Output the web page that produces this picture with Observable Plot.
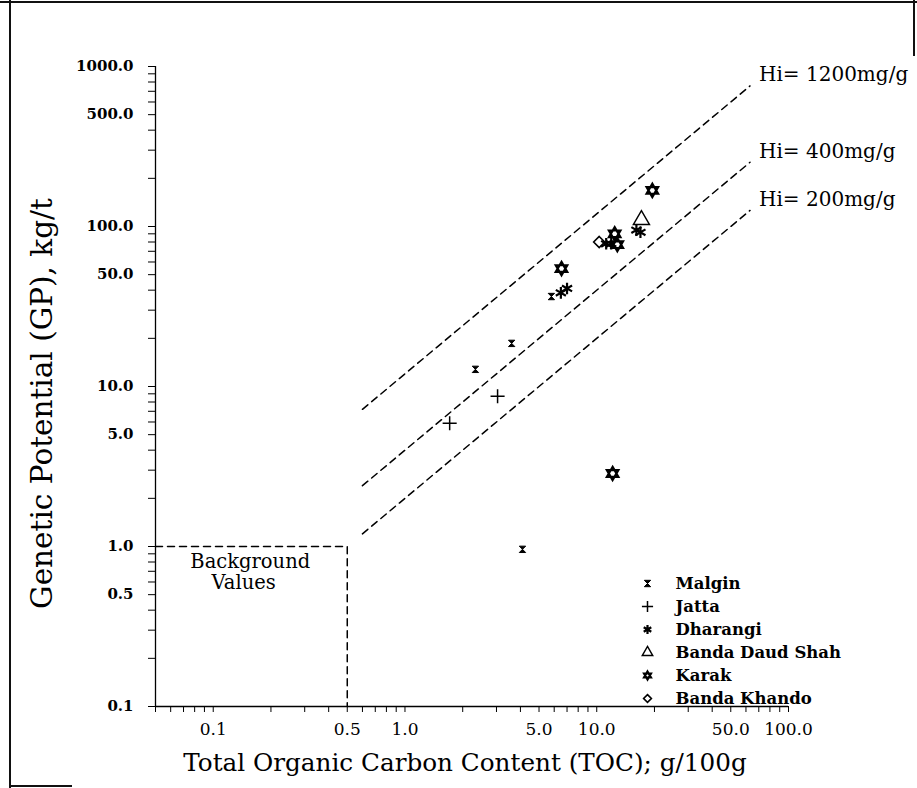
<!DOCTYPE html>
<html><head><meta charset="utf-8">
<script src="https://cdn.jsdelivr.net/npm/d3@7"></script>
<script src="https://cdn.jsdelivr.net/npm/@observablehq/plot@0.6"></script>
<style>
body{margin:0;background:#fff;}
#wrap{position:relative;width:917px;height:788px;overflow:hidden;background:#fff;}
#wrap svg{position:absolute;left:0;top:0;}
.bl{position:absolute;background:#111;}
</style></head><body>
<div id="wrap">
  <div class="bl" style="left:9px;top:0;width:2px;height:788px"></div>
  <div class="bl" style="left:0;top:1px;width:917px;height:2px"></div>
  <div class="bl" style="left:913px;top:0;width:2px;height:56px"></div>
  <div class="bl" style="left:10px;top:785px;width:62px;height:2px"></div>
</div>
<script>
// ---- data ----
const seriesNames = ["Malgin", "Jatta", "Dharangi", "Banda Daud Shah", "Karak", "Banda Khando"];
const malginTOC = [2.33, 3.6, 5.8, 4.1];
const malginGP  = [12.8, 18.6, 36.5, 0.96];
const jattaTOC = [1.71, 3.04];
const jattaGP  = [5.9, 8.7];
const dharangiTOC = [6.5, 7.0, 11.2, 11.9, 16.1, 16.9];
const dharangiGP  = [38.5, 41, 78, 78, 95, 92];
const bdsTOC = [17.1];
const bdsGP  = [110];
const karakTOC = [6.55, 12.1, 12.4, 12.8, 19.5];
const karakGP  = [54.6, 2.86, 90, 77, 168];
const bkTOC = [10.3];
const bkGP  = [80];

const hiNames = ["Hi= 1200mg/g", "Hi= 400mg/g", "Hi= 200mg/g"];
const hiLineTOC = [0.6, 63];
const hi1200GP = [7.2, 756];
const hi400GP  = [2.4, 252];
const hi200GP  = [1.2, 126];

const bgBoxTOC = [0.05, 0.5, 0.5];
const bgBoxGP  = [1, 1, 0.1];
const bgLabels = ["Background", "Values"];
const bgLabelTOC = [0.076, 0.098];
const bgLabelGP  = [0.806, 0.596];

const xTickLabels = [0.1, 0.5, 1, 5, 10, 50, 100];
const yTickLabels = [0.1, 0.5, 1, 5, 10, 50, 100, 500, 1000];

// ---- helpers ----
const zip = (xs, ys) => xs.map((x, i) => ({toc: x, gp: ys[i]}));
function minorTicks(lo, hi) {
  const out = [];
  for (let e = lo; e <= hi; e++) for (let m = 1; m <= 9; m++) out.push(+(m * 10 ** e).toPrecision(3));
  return out;
}
const xAll = minorTicks(-2, 2).filter(d => d >= 0.05 && d <= 100);
const yAll = minorTicks(-1, 3).filter(d => d >= 0.1 && d <= 1000);

const hourglass = {draw(c, size) {
  const s = Math.sqrt(size) / 2;
  c.moveTo(-s, -s); c.lineTo(s, -s); c.lineTo(0, 0); c.closePath();
  c.moveTo(-s, s); c.lineTo(s, s); c.lineTo(0, 0); c.closePath();
}};
const hexagram = {draw(c, size) {
  const r = Math.sqrt(size) / 1.6;
  for (const off of [-Math.PI / 2, Math.PI / 2]) {
    for (let k = 0; k < 3; k++) {
      const a = off + k * 2 * Math.PI / 3;
      const x = r * Math.cos(a), y = r * Math.sin(a);
      if (k) c.lineTo(x, y); else c.moveTo(x, y);
    }
    c.closePath();
  }
}};

const styles = [
  {symbol: hourglass, r: 3.6, fill: "black", stroke: "black", strokeWidth: 1},
  {symbol: "plus", r: 4.6, fill: "none", stroke: "black", strokeWidth: 1.5},
  {symbol: "asterisk", r: 5.5, fill: "none", stroke: "black", strokeWidth: 2.2},
  {symbol: "triangle", r: 6, fill: "none", stroke: "black", strokeWidth: 1.4},
  {symbol: hexagram, r: 6, fill: "none", stroke: "black", strokeWidth: 2.2},
  {symbol: "diamond2", r: 5, fill: "none", stroke: "black", strokeWidth: 1.6}
];
const legendScale = [1, 0.8, 0.75, 0.65, 0.6, 0.7];
const seriesData = [
  zip(malginTOC, malginGP), zip(jattaTOC, jattaGP), zip(dharangiTOC, dharangiGP),
  zip(bdsTOC, bdsGP), zip(karakTOC, karakGP), zip(bkTOC, bkGP)
];

const dash = {stroke: "black", strokeWidth: 1.5, strokeDasharray: "7,5"};
const hiGPs = [hi1200GP, hi400GP, hi200GP];

const marks = [
  // axis lines
  Plot.ruleY([0.1], {stroke: "black", strokeWidth: 1.3}),
  Plot.ruleX([0.05], {stroke: "black", strokeWidth: 1.3}),
  // tick marks
  Plot.axisX({ticks: xAll, tickSize: 6, tickFormat: () => "", label: null}),
  Plot.axisY({ticks: yAll, tickSize: 7, tickFormat: () => "", label: null}),
  // tick labels
  Plot.text(xTickLabels, {x: d => d, text: d => d.toFixed(1), frameAnchor: "bottom", dy: 23,
    textAnchor: "middle", lineAnchor: "middle", fontSize: 17}),
  Plot.text(yTickLabels, {y: d => d, text: d => d.toFixed(1), frameAnchor: "left", dx: -22,
    textAnchor: "end", lineAnchor: "middle", fontWeight: "bold", fontSize: 15}),
  // axis titles
  Plot.text(["Total Organic Carbon Content (TOC); g/100g"], {text: d => d, frameAnchor: "bottom", dx: -7, dy: 57,
    textAnchor: "middle", lineAnchor: "middle", fontSize: 24.7}),
  Plot.text(["Genetic Potential (GP), kg/t"], {text: d => d, frameAnchor: "left", dx: -113, dy: 17, rotate: -90,
    textAnchor: "middle", lineAnchor: "middle", fontSize: 29.5}),
  // background box
  Plot.line(zip(bgBoxTOC, bgBoxGP), {x: "toc", y: "gp", ...dash}),
  Plot.text(bgLabels, {x: (d, i) => bgLabelTOC[i], y: (d, i) => bgLabelGP[i], text: d => d,
    textAnchor: "start", lineAnchor: "middle", fontSize: 19.5})
];
// Hi lines
hiGPs.forEach((g, k) => {
  const pts = zip(hiLineTOC, g);
  marks.push(Plot.line(pts, {x: "toc", y: "gp", ...dash}));
  marks.push(Plot.text([pts[1]], {x: "toc", y: "gp", text: () => hiNames[k], textAnchor: "start",
    lineAnchor: "middle", dx: 9, dy: -11, fontSize: 20}));
});
// data points and legend
seriesData.forEach((data, i) => {
  marks.push(Plot.dot(data, {x: "toc", y: "gp", ...styles[i]}));
  const dy = -(123 - 23 * i);
  marks.push(Plot.dot([seriesNames[i]], {frameAnchor: "bottom-left", dx: 492, dy, ...styles[i], r: styles[i].r * legendScale[i]}));
  marks.push(Plot.text([seriesNames[i]], {text: d => d, frameAnchor: "bottom-left", dx: 520, dy,
    textAnchor: "start", lineAnchor: "middle", fontWeight: "bold", fontSize: 16.5}));
});

const chart = Plot.plot({
  width: 917, height: 788,
  marginLeft: 155, marginRight: 129, marginTop: 66, marginBottom: 82,
  x: {type: "log", domain: [0.05, 100], axis: null},
  y: {type: "log", domain: [0.1, 1000], axis: null},
  style: {fontFamily: "'DejaVu Serif', serif", color: "black", background: "transparent"},
  marks
});
document.getElementById("wrap").prepend(chart);
</script>
</body></html>
